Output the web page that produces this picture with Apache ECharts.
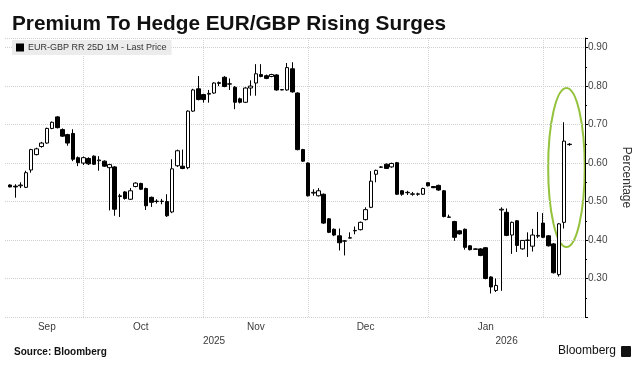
<!DOCTYPE html>
<html><head><meta charset="utf-8">
<script src="https://cdn.jsdelivr.net/npm/echarts@6/dist/echarts.min.js"></script>
<style>html,body{margin:0;padding:0;background:#fff}#c{width:643px;height:375px}</style>
</head><body><div id="c"></div>
<script>
const chartTitle = 'Premium To Hedge EUR/GBP Rising Surges';
const seriesName = 'EUR-GBP RR 25D 1M - Last Price';
const axisName = 'Percentage';
const axisStart = '2025-09-10';
const axisEnd = '2026-02-12';
const firstDataDate = '2025-09-11';
const monthKeys = ['2025-09', '2025-10', '2025-11', '2025-12', '2026-01'];
const monthLabels = ['Sep', 'Oct', 'Nov', 'Dec', 'Jan'];
const yearLabels = ['2025', '2026'];

// each candle: [open, close, low, high]
const sep = [
[0.543,0.538,0.537,0.545],[0.540,0.538,0.510,0.545],[0.541,0.543,0.535,0.550],[0.537,0.575,0.535,0.580],
[0.582,0.635,0.575,0.637],[0.622,0.637,0.620,0.640],[0.643,0.652,0.640,0.655],[0.652,0.690,0.650,0.692],
[0.690,0.706,0.688,0.708],[0.720,0.692,0.690,0.722],[0.687,0.670,0.668,0.690],[0.674,0.652,0.645,0.676],
[0.677,0.610,0.605,0.688],[0.614,0.601,0.592,0.617]
];
const oct = [
[0.600,0.614,0.595,0.617],[0.612,0.598,0.595,0.615],[0.618,0.597,0.595,0.620],[0.606,0.608,0.580,0.618],
[0.605,0.592,0.590,0.607],[0.588,0.596,0.477,0.598],[0.590,0.480,0.463,0.592],[0.513,0.515,0.460,0.520],
[0.525,0.508,0.505,0.527],[0.506,0.528,0.504,0.535],[0.539,0.548,0.537,0.550],[0.547,0.532,0.530,0.549],
[0.534,0.489,0.478,0.536],[0.511,0.498,0.486,0.513],[0.500,0.501,0.495,0.506],[0.500,0.501,0.493,0.507],
[0.500,0.463,0.460,0.519],[0.473,0.585,0.470,0.610],[0.593,0.632,0.590,0.635],[0.592,0.586,0.584,0.635],
[0.588,0.735,0.584,0.737],[0.735,0.790,0.733,0.793],[0.793,0.765,0.763,0.826]
];
const nov = [
[0.778,0.765,0.757,0.780],[0.779,0.781,0.757,0.790],[0.782,0.808,0.780,0.810],[0.807,0.809,0.800,0.812],
[0.823,0.799,0.797,0.826],[0.805,0.806,0.790,0.820],[0.797,0.758,0.740,0.800],[0.767,0.758,0.755,0.770],
[0.758,0.795,0.756,0.797],[0.795,0.800,0.775,0.815],[0.808,0.832,0.775,0.857],[0.830,0.825,0.823,0.857],
[0.827,0.820,0.818,0.830],[0.825,0.830,0.823,0.832],[0.829,0.790,0.788,0.831],[0.790,0.791,0.789,0.792],
[0.790,0.848,0.788,0.860],[0.845,0.785,0.783,0.862],[0.782,0.635,0.633,0.784],[0.635,0.605,0.603,0.637]
];
const dec = [
[0.600,0.515,0.513,0.602],[0.522,0.524,0.515,0.532],[0.515,0.528,0.513,0.535],[0.519,0.444,0.442,0.521],
[0.455,0.420,0.418,0.457],[0.428,0.413,0.410,0.430],[0.411,0.393,0.373,0.430],[0.397,0.398,0.360,0.400],
[0.405,0.406,0.404,0.420],[0.424,0.425,0.415,0.435],[0.427,0.446,0.425,0.448],[0.453,0.479,0.451,0.485],
[0.485,0.553,0.483,0.579],[0.571,0.581,0.550,0.583],[0.589,0.590,0.588,0.592],[0.597,0.586,0.585,0.599],
[0.590,0.599,0.588,0.601],[0.601,0.519,0.517,0.603],[0.528,0.519,0.515,0.530],[0.523,0.524,0.517,0.528],
[0.519,0.520,0.515,0.525],[0.519,0.520,0.515,0.523],[0.519,0.534,0.517,0.536]
];
const jan = [
[0.549,0.541,0.539,0.550],[0.539,0.536,0.535,0.540],[0.542,0.530,0.528,0.544],[0.528,0.461,0.459,0.530],
[0.459,0.460,0.458,0.466],[0.448,0.407,0.398,0.450],[0.424,0.416,0.414,0.426],[0.428,0.381,0.375,0.430],
[0.385,0.375,0.373,0.387],[0.377,0.376,0.375,0.378],[0.377,0.360,0.358,0.379],[0.380,0.300,0.298,0.382],
[0.304,0.278,0.261,0.306],[0.269,0.282,0.265,0.300],[0.478,0.480,0.268,0.485],[0.472,0.412,0.410,0.482],
[0.413,0.446,0.364,0.448],[0.450,0.386,0.369,0.452],[0.377,0.399,0.375,0.400],[0.399,0.400,0.356,0.420],
[0.384,0.413,0.370,0.429],[0.410,0.412,0.405,0.473]
];
const feb = [
[0.444,0.407,0.405,0.470],[0.411,0.385,0.383,0.413],[0.390,0.315,0.313,0.392],[0.310,0.442,0.305,0.444],
[0.446,0.657,0.430,0.706],[0.648,0.649,0.645,0.652]
];
// annotation: ellipse around the latest surge
const highlight = { candle: 106, low: 0.382, high: 0.795, halfWidthDays: 3.5, shiftDays: 0.45 };

function weekdays(from, to) {
  const out = [];
  let d = new Date(from + 'T00:00:00Z');
  const e = new Date(to + 'T00:00:00Z');
  while (d <= e) {
    const w = d.getUTCDay();
    if (w !== 0 && w !== 6) out.push(d.toISOString().slice(0, 10));
    d = new Date(d.getTime() + 86400000);
  }
  return out;
}
const categories = weekdays(axisStart, axisEnd);
const ohlc = [].concat(sep, oct, nov, dec, jan, feb);
const offset = categories.indexOf(firstDataDate);
const seriesData = categories.map((c, i) => {
  const k = i - offset;
  return (k >= 0 && k < ohlc.length) ? ohlc[k] : '-';
});

// label positions
const monthLabelIdx = {};
monthKeys.forEach((key, m) => {
  const idx = [];
  categories.forEach((c, i) => { if (c.slice(0, 7) === key && seriesData[i] !== '-') idx.push(i); });
  monthLabelIdx[Math.ceil((idx[0] + idx[idx.length - 1]) / 2)] = monthLabels[m];
});
const yearLabelIdx = {};
yearLabels.forEach(y => {
  const idx = [];
  categories.forEach((c, i) => { if (c.slice(0, 4) === y) idx.push(i); });
  yearLabelIdx[Math.round((idx[0] + idx[idx.length - 1]) / 2)] = y;
});
const isMonthStart = i => i > 0 && categories[i].slice(0, 7) !== categories[i - 1].slice(0, 7);

const FONT = 'Liberation Sans';
const chart = echarts.init(document.getElementById('c'), null, { renderer: 'canvas' });
chart.setOption({
  animation: false,
  backgroundColor: '#fff',
  title: {
    text: chartTitle, left: 7, top: 9,
    textStyle: { fontSize: 20.8, fontWeight: 'bold', fontFamily: FONT, color: '#111' }
  },
  legend: {
    left: 12, top: 40, padding: [3, 5, 3, 4],
    backgroundColor: '#ececec',
    itemWidth: 6, itemHeight: 6,
    textStyle: { fontSize: 9, fontFamily: FONT, color: '#333' },
    data: [{ name: seriesName, icon: 'rect', itemStyle: { color: '#000', borderColor: '#000' } }]
  },
  grid: { left: 5, right: 58, top: 38, bottom: 58 },
  xAxis: [{
    type: 'category', data: categories, boundaryGap: false,
    axisLine: { show: false }, axisTick: { show: false },
    axisLabel: {
      interval: (i) => monthLabelIdx[i] !== undefined,
      formatter: (v, i) => monthLabelIdx[i] || '',
      margin: 5, fontSize: 10, fontFamily: FONT, color: '#3a3a3a'
    },
    splitLine: { show: true, interval: (i) => isMonthStart(i), lineStyle: { color: '#d4d4d4', type: 'dotted', width: 1 } }
  }, {
    type: 'category', data: categories, boundaryGap: false, position: 'bottom', offset: 14,
    axisLine: { show: false }, axisTick: { show: false }, splitLine: { show: false },
    axisLabel: {
      interval: (i) => yearLabelIdx[i] !== undefined,
      formatter: (v, i) => yearLabelIdx[i] || '',
      margin: 5, fontSize: 10, fontFamily: FONT, color: '#3a3a3a'
    }
  }],
  yAxis: {
    type: 'value', position: 'right', min: 0.2, max: 0.925, interval: 0.1,
    name: axisName, nameLocation: 'middle', nameRotate: -90, nameGap: 35,
    nameTextStyle: { fontSize: 12, fontFamily: FONT, color: '#333' },
    axisLine: { show: true, lineStyle: { color: '#000', width: 1 } },
    axisTick: { show: true, length: 3, lineStyle: { color: '#000' } },
    minorTick: { show: true, splitNumber: 2, length: 2, lineStyle: { color: '#000' } },
    axisLabel: {
      margin: 3, fontSize: 10, fontFamily: FONT, color: '#444',
      formatter: v => (Math.abs(v * 10 - Math.round(v * 10)) < 1e-6 && v > 0.25) ? v.toFixed(2) : ''
    },
    splitLine: { show: true, lineStyle: { color: '#d0d0d0', type: 'dotted', width: 1 } }
  },
  series: [{
    name: seriesName, type: 'candlestick', data: seriesData, barWidth: 4,
    itemStyle: { color: '#fff', color0: '#000', borderColor: '#000', borderColor0: '#000', borderWidth: 1 }
  }],
  graphic: [
    { type: 'text', left: 14, top: 347, style: { text: 'Source: Bloomberg', font: 'bold 10px "Liberation Sans"', fill: '#111' } },
    { type: 'text', right: 27, top: 345, style: { text: 'Bloomberg', font: '12px "Liberation Sans"', fill: '#111' } },
    { type: 'rect', right: 12, top: 346, shape: { width: 10, height: 11, r: 1 }, style: { fill: '#111' } }
  ]
});

// ellipse annotation placed through the axes
const ci = offset + highlight.candle;
const p0 = chart.convertToPixel({ gridIndex: 0 }, [ci, highlight.low]);
const p1 = chart.convertToPixel({ gridIndex: 0 }, [ci + 1, highlight.high]);
const slot = p1[0] - p0[0];
chart.setOption({
  graphic: [{
    type: 'ellipse', id: 'hl', silent: true,
    shape: { cx: p0[0] + highlight.shiftDays * slot, cy: (p0[1] + p1[1]) / 2, rx: highlight.halfWidthDays * slot, ry: (p0[1] - p1[1]) / 2 },
    style: { fill: 'none', stroke: '#94c23c', lineWidth: 2 }
  }]
});
</script></body></html>
